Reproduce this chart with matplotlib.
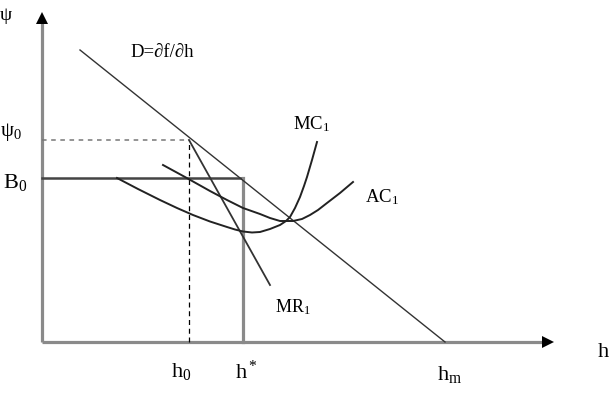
#!/usr/bin/env python3
"""Monopoly-style cost/demand diagram (psi vs h)."""
import matplotlib

matplotlib.use("Agg")
import matplotlib.pyplot as plt  # noqa: E402

plt.rcParams["font.family"] = ["Liberation Serif", "DejaVu Serif"]
plt.rcParams["mathtext.fontset"] = "custom"
plt.rcParams["mathtext.rm"] = "Liberation Serif"
plt.rcParams["mathtext.it"] = "Liberation Serif"

# data units: h along x, psi along y (origin at the axes corner)
H_MAX, PSI_MAX = 511, 329

# demand D = df/dh (straight line ending at h_m)
d_h = [38, 403]
d_psi = [292, 0]

# marginal revenue MR1
mr_h = [147, 228]
mr_psi = [202, 57]

# marginal cost MC1
mc_h = [75, 96, 118, 135, 151, 168, 185, 193, 201, 210, 218, 228, 238,
        244, 248, 253, 258, 262, 265, 270, 275]
mc_psi = [164, 153, 142, 134, 127, 120.5, 115, 112.5, 110.5, 109.5, 110,
          113, 117, 121, 125, 134, 145, 156, 165, 182, 200]

# average cost AC1
ac_h = [121, 143, 168, 185, 201, 218, 228, 238, 251, 260, 268, 276, 285,
        298, 311]
ac_psi = [177, 165, 151, 142, 134, 128, 124, 121, 121, 123, 127, 132, 139,
          149, 160]

# reference levels
h0, psi0 = 147, 202
h_star, B0 = 201, 164
h_m = 403


def main():
    fig = plt.figure(figsize=(6.10, 3.96), dpi=100)
    ax = fig.add_axes([0, 0, 1, 1])
    ax.set_xlim(-42, 568)
    ax.set_ylim(-54, 342)
    ax.set_axis_off()

    # axes with arrow heads
    ax.plot([0, H_MAX - 10], [0, 0], color="#8a8a8a", lw=2.3, solid_capstyle="butt")
    ax.plot([0, 0], [0, PSI_MAX - 10], color="#8a8a8a", lw=2.3, solid_capstyle="butt")
    ax.plot(H_MAX - 5, 0, marker=">", ms=9, color="black", mew=0)
    ax.plot(0, PSI_MAX - 5, marker="^", ms=9, color="black", mew=0)

    # guide lines
    ax.plot([0, h0], [psi0, psi0], color="#777777", lw=1.1, ls=(0, (3, 3)))
    ax.plot([h0, h0], [0, psi0], color="black", lw=0.9, ls=(0, (4, 3)))
    ax.plot([0, h_star], [B0, B0], color="#444444", lw=1.8)
    ax.plot([h_star, h_star], [0, B0], color="#8a8a8a", lw=2.3)

    # curves
    ax.plot(d_h, d_psi, color="#333333", lw=1.0)
    ax.plot(mr_h, mr_psi, color="#333333", lw=1.3)
    ax.plot(mc_h, mc_psi, color="#222222", lw=1.4)
    ax.plot(ac_h, ac_psi, color="#222222", lw=1.4)

    # labels
    ax.text(-42, 322, "ψ", fontsize=14, ha="left", va="baseline")
    ax.text(-42, 206, "ψ$_0$", fontsize=15, ha="left", va="baseline")
    ax.text(-39, 154, "B$_0$", fontsize=16, ha="left", va="baseline")
    ax.text(88, 285, "D=∂f/∂h", fontsize=13.5, ha="left", va="baseline")
    ax.text(251, 213, "MC$_1$", fontsize=13.5, ha="left", va="baseline")
    ax.text(323, 140, "AC$_1$", fontsize=13.5, ha="left", va="baseline")
    ax.text(233, 30, "MR$_1$", fontsize=13, ha="left", va="baseline")
    ax.text(h0 - 18, -35, "h$_0$", fontsize=16, ha="left", va="baseline")
    ax.text(h_star - 8, -37, "h$^*$", fontsize=16, ha="left", va="baseline")
    ax.text(h_m - 8, -38, "h$_m$", fontsize=16, ha="left", va="baseline")
    ax.text(556, -15, "h", fontsize=16, ha="left", va="baseline")

    fig.savefig("out.png", dpi=100)


if __name__ == "__main__":
    main()
